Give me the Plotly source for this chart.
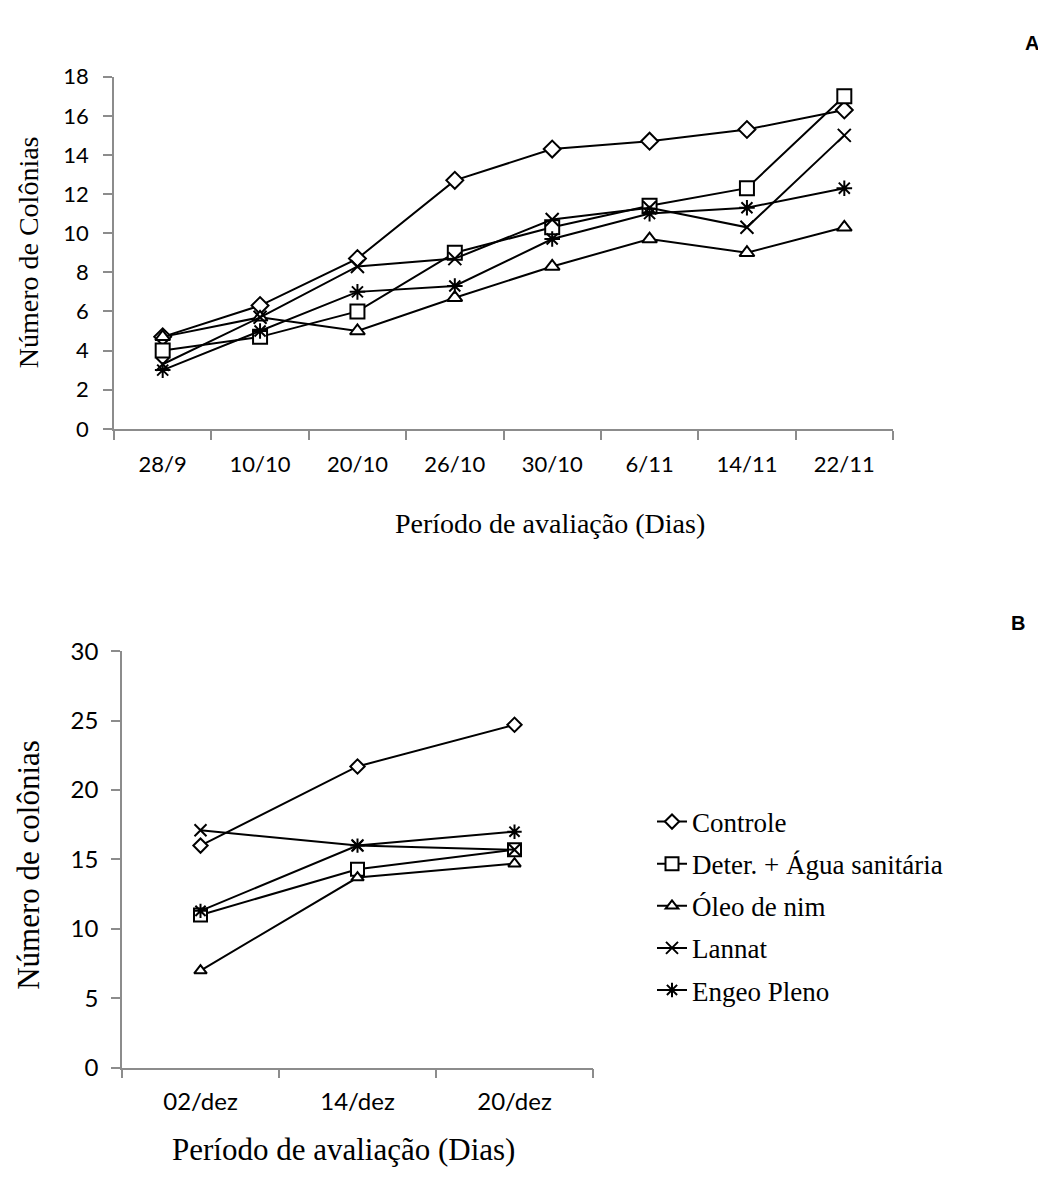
import plotly.graph_objects as go

# ---------------- data ----------------
dates_a = ["28/9", "10/10", "20/10", "26/10", "30/10", "6/11", "14/11", "22/11"]
controle_a = [4.7, 6.3, 8.7, 12.7, 14.3, 14.7, 15.3, 16.3]
deter_a = [4.0, 4.7, 6.0, 9.0, 10.3, 11.4, 12.3, 17.0]
oleo_a = [4.7, 5.7, 5.0, 6.7, 8.3, 9.7, 9.0, 10.3]
lannat_a = [3.3, 5.7, 8.3, 8.7, 10.7, 11.3, 10.3, 15.0]
engeo_a = [3.0, 5.0, 7.0, 7.3, 9.7, 11.0, 11.3, 12.3]

dates_b = ["02/dez", "14/dez", "20/dez"]
controle_b = [16.0, 21.7, 24.7]
deter_b = [11.0, 14.3, 15.7]
oleo_b = [7.0, 13.7, 14.7]
lannat_b = [17.1, 16.0, 15.7]
engeo_b = [11.3, 16.0, 17.0]

names = ["Controle", "Deter. + Água sanitária", "Óleo de nim", "Lannat", "Engeo Pleno"]
symbols = ["diamond", "square", "triangle-up", "x-thin", "asterisk"]
sizes_a = [13, 14, 13, 13, 13]
sizes_b = [11, 13, 11, 12, 12]

series_a = [controle_a, deter_a, oleo_a, lannat_a, engeo_a]
series_b = [controle_b, deter_b, oleo_b, lannat_b, engeo_b]

# page is 1046x1189; the figure sits inside the default 8px body margin
OFF = 8
W, H = 1046 - OFF, 1189 - OFF
AXC = "#8c8c8c"
SERIF = "Liberation Serif, Times New Roman, serif"
SANS = "Lato, Calibri, sans-serif"

fig = go.Figure()

for i, (nm, sym) in enumerate(zip(names, symbols)):
    fig.add_trace(go.Scatter(
        x=dates_a, y=series_a[i], mode="lines+markers", name=nm,
        xaxis="x", yaxis="y", showlegend=False,
        line=dict(color="black", width=2),
        marker=dict(symbol=sym, size=sizes_a[i], color="white",
                    line=dict(color="black", width=2)),
    ))

for i, (nm, sym) in enumerate(zip(names, symbols)):
    fig.add_trace(go.Scatter(
        x=dates_b, y=series_b[i], mode="lines+markers", name=nm,
        xaxis="x2", yaxis="y2", showlegend=True, legendgroup=nm,
        line=dict(color="black", width=2),
        marker=dict(symbol=sym, size=sizes_b[i], color="white",
                    line=dict(color="black", width=2)),
    ))


def px_x(p):
    return (p - OFF) / W


def px_y(p):
    return 1 - (p - OFF) / H


def ax(fs, standoff):
    return dict(showline=True, linecolor=AXC, linewidth=1.5, ticks="outside",
                tickcolor=AXC, ticklen=9, tickwidth=1.5, showgrid=False,
                zeroline=False, ticklabelstandoff=standoff,
                tickfont=dict(family=SANS, size=fs, color="black"))


fig.update_layout(
    width=W, height=H,
    margin=dict(l=0, r=0, t=0, b=0),
    paper_bgcolor="white", plot_bgcolor="white",
    xaxis=dict(type="category", domain=[px_x(114), px_x(893)], anchor="y",
               range=[-0.5, len(dates_a) - 0.5], tickson="boundaries", **ax(22, 15)),
    yaxis=dict(range=[0, 18], dtick=2, domain=[px_y(423), px_y(62)], anchor="x",
               **ax(22, 10)),
    xaxis2=dict(type="category", domain=[px_x(122), px_x(593)], anchor="y2",
                range=[-0.5, len(dates_b) - 0.5], tickson="boundaries", **ax(24, 12)),
    yaxis2=dict(range=[0, 30], dtick=5, domain=[px_y(1078), px_y(651)], anchor="x2",
                **ax(24, 8)),
    legend=dict(x=px_x(652), y=px_y(801), xanchor="left", yanchor="top",
                font=dict(family=SERIF, size=27, color="black"),
                tracegroupgap=4, traceorder="grouped", bgcolor="rgba(0,0,0,0)"),
    annotations=[
        dict(text="Número de Colônias", x=px_x(28), y=px_y(242), xref="paper", yref="paper",
             xanchor="center", yanchor="middle", textangle=-90, showarrow=False,
             font=dict(family=SERIF, size=28, color="black")),
        dict(text="Período de avaliação (Dias)", x=px_x(550), y=px_y(520), xref="paper", yref="paper",
             xanchor="center", yanchor="middle", showarrow=False,
             font=dict(family=SERIF, size=28, color="black")),
        dict(text="Número de colônias", x=px_x(29), y=px_y(870), xref="paper", yref="paper",
             xanchor="center", yanchor="middle", textangle=-90, showarrow=False,
             font=dict(family=SERIF, size=31, color="black")),
        dict(text="Período de avaliação (Dias)", x=px_x(343), y=px_y(1162), xref="paper", yref="paper",
             xanchor="center", yanchor="middle", showarrow=False,
             font=dict(family=SERIF, size=31, color="black")),
        dict(text="<b>A</b>", x=px_x(1032), y=px_y(27), xref="paper", yref="paper",
             xanchor="center", yanchor="middle", showarrow=False,
             font=dict(family="Liberation Sans, Arial, sans-serif", size=20, color="black")),
        dict(text="<b>B</b>", x=px_x(1018), y=px_y(622), xref="paper", yref="paper",
             xanchor="center", yanchor="middle", showarrow=False,
             font=dict(family="Liberation Sans, Arial, sans-serif", size=20, color="black")),
    ],
)

fig.write_html("out.html")
